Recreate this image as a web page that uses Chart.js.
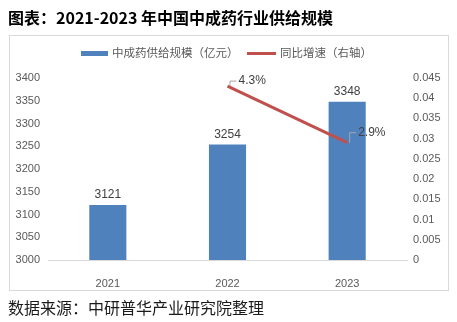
<!DOCTYPE html>
<html>
<head>
<meta charset="utf-8">
<script src="https://cdn.jsdelivr.net/npm/chart.js@4/dist/chart.umd.min.js"></script>
<style>
  html, body { margin: 0; padding: 0; background: #fff; }
  #wrap { position: relative; width: 457px; height: 322px; overflow: hidden; }
  #frame { position: absolute; left: 9px; top: 35px; width: 438px; height: 254px; border: 1px solid #d9d9d9; }
  #chart { position: absolute; left: 0; top: 0; }
  .title { position: absolute; left: 8px; top: 6px; font: bold 16px "Noto Sans CJK SC", sans-serif; color: #000; white-space: nowrap; line-height: 22px; }
  .source { position: absolute; left: 8px; top: 296px; font: 16px "Noto Sans CJK SC", sans-serif; color: #1a1a1a; white-space: nowrap; line-height: 22px; }
</style>
</head>
<body>
<div id="wrap">
  <div id="frame"></div>
  <canvas id="chart" width="457" height="322"></canvas>
  <div class="title">图表：2021-2023 年中国中成药行业供给规模</div>
  <div class="source">数据来源：中研普华产业研究院整理</div>
</div>
<script>
const years = ['2021', '2022', '2023'];
const supply = [3121, 3254, 3348];          // 亿元
const growth = [null, 0.043, 0.029];        // 同比增速
const growthLabels = [null, '4.3%', '2.9%'];

const BLUE = '#4F81BD';
const RED = '#C0504D';
const TICK = '#595959';
const tickFont = { size: 11, family: '"Liberation Sans", Arial' };

// legend + value labels
const labelsPlugin = {
  id: 'labels',
  afterDatasetsDraw(chart) {
    const ctx = chart.ctx;
    ctx.save();
    ctx.font = '12px "Liberation Sans", Arial, sans-serif';
    ctx.fillStyle = '#404040';
    ctx.textAlign = 'center';
    ctx.textBaseline = 'bottom';
    chart.getDatasetMeta(0).data.forEach((bar, i) => {
      ctx.fillText(String(supply[i]), bar.x, bar.y - 4);
    });

    // growth labels with small leader lines
    const lift = [0, 5, 10];
    ctx.textAlign = 'left';
    ctx.textBaseline = 'middle';
    chart.getDatasetMeta(1).data.forEach((pt, i) => {
      if (growth[i] == null) return;
      const x = pt.x + 2, y = pt.y;
      const ty = y - lift[i];
      ctx.strokeStyle = '#a6a6a6';
      ctx.lineWidth = 1;
      ctx.beginPath();
      ctx.moveTo(x + 0.5, y);
      ctx.lineTo(x + 0.5, ty);
      ctx.lineTo(x + 7, ty);
      ctx.stroke();
      ctx.fillStyle = '#404040';
      ctx.fillText(growthLabels[i], x + 9, ty);
    });

    // legend
    const ly = 53;
    ctx.fillStyle = BLUE;
    ctx.fillRect(81, ly - 2, 27, 5);
    ctx.strokeStyle = RED;
    ctx.lineWidth = 3;
    ctx.beginPath();
    ctx.moveTo(247, ly + 0.5);
    ctx.lineTo(276, ly + 0.5);
    ctx.stroke();
    ctx.fillStyle = TICK;
    ctx.font = '11.5px "Noto Sans CJK SC", sans-serif';
    ctx.fillText('中成药供给规模（亿元）', 112, ly);
    ctx.fillText('同比增速（右轴）', 280, ly);
    ctx.restore();
  }
};

new Chart(document.getElementById('chart'), {
  data: {
    labels: years,
    datasets: [
      {
        type: 'bar',
        label: '中成药供给规模（亿元）',
        data: supply,
        backgroundColor: BLUE,
        categoryPercentage: 1,
        barPercentage: 0.31,
        yAxisID: 'y',
        order: 2
      },
      {
        type: 'line',
        label: '同比增速（右轴）',
        data: growth,
        borderColor: RED,
        borderWidth: 3,
        pointRadius: 0,
        fill: false,
        yAxisID: 'y1',
        order: 1
      }
    ]
  },
  options: {
    responsive: false,
    animation: false,
    layout: { padding: { top: 78, bottom: 0, left: 0, right: 0 } },
    plugins: {
      legend: { display: false },
      tooltip: { enabled: false }
    },
    scales: {
      x: {
        grid: { display: false },
        border: { display: true, color: '#d9d9d9', width: 1 },
        ticks: { color: TICK, font: tickFont, padding: 9 },
        afterFit(s) { s.height = 62; }
      },
      y: {
        position: 'left',
        min: 3000,
        max: 3400,
        grid: { display: false, drawTicks: false },
        border: { display: false },
        ticks: { stepSize: 50, color: TICK, font: tickFont, padding: 8, callback: v => String(v) },
        afterFit(s) { s.width = 48; }
      },
      y1: {
        position: 'right',
        min: 0,
        max: 0.045,
        grid: { display: false, drawTicks: false },
        border: { display: false },
        ticks: {
          stepSize: 0.005,
          color: TICK,
          font: tickFont,
          padding: 6,
          callback: v => String(parseFloat(v.toFixed(3)))
        },
        afterFit(s) { s.width = 50; }
      }
    }
  },
  plugins: [labelsPlugin]
});
</script>
</body>
</html>
